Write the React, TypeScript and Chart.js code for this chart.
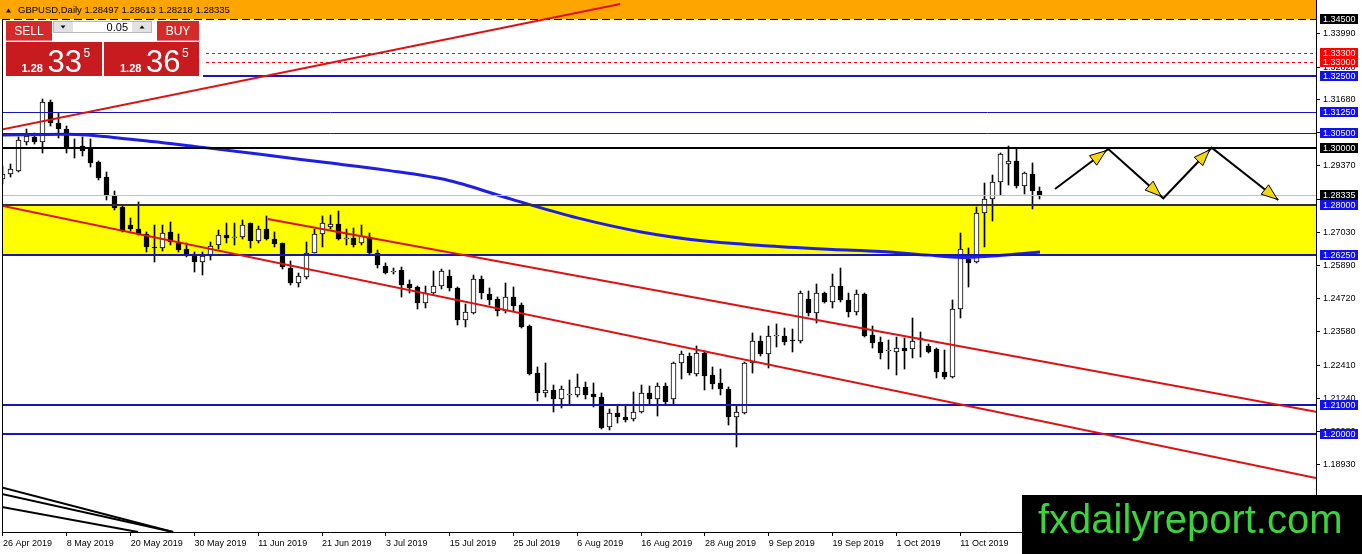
import React, { useEffect, useRef } from "react";
import { Chart, registerables } from "chart.js";

Chart.register(...registerables);

// ---------- DATA ----------
const opens = [
  1.2891, 1.2907, 1.2920, 1.3021, 1.3039, 1.3021, 1.3161, 1.3088, 1.3065, 1.2998,
  1.3006, 1.2998, 1.2951, 1.2897, 1.2835, 1.2792, 1.2730, 1.2716, 1.2699, 1.2655,
  1.2649, 1.2707, 1.2672, 1.2645, 1.2623, 1.2602, 1.2623, 1.2660, 1.2696, 1.2684,
  1.2687, 1.2736, 1.2675, 1.2715, 1.2680, 1.2668, 1.2581, 1.2526, 1.2550, 1.2634,
  1.2699, 1.2723, 1.2734, 1.2683, 1.2686, 1.2666, 1.2690, 1.2631, 1.2587, 1.2565,
  1.2573, 1.2524, 1.2513, 1.2457, 1.2491, 1.2517, 1.2552, 1.2509, 1.2398, 1.2424,
  1.2540, 1.2489, 1.2471, 1.2430, 1.2478, 1.2451, 1.2377, 1.2212, 1.2144, 1.2154,
  1.2121, 1.2138, 1.2136, 1.2165, 1.2139, 1.2130, 1.2025, 1.2072, 1.2061, 1.2051,
  1.2078, 1.2144, 1.2121, 1.2168, 1.2121, 1.2247, 1.2274, 1.2210, 1.2282, 1.2206,
  1.2177, 1.2157, 1.2061, 1.2075, 1.2247, 1.2325, 1.2279, 1.2343, 1.2344, 1.2327,
  1.2326, 1.2471, 1.2422, 1.2492, 1.2462, 1.2517, 1.2468, 1.2427, 1.2489, 1.2346,
  1.2322, 1.2290, 1.2288, 1.2300, 1.2296, 1.2329, 1.2307, 1.2296, 1.2218, 1.2200,
  1.2436, 1.2610, 1.2602, 1.2773, 1.2820, 1.2882, 1.2942, 1.2954, 1.2867, 1.2908,
  1.28497,
];
const highs = [
  1.2936, 1.2943, 1.3039, 1.3065, 1.3053, 1.3169, 1.3167, 1.3123, 1.3076, 1.3030,
  1.3039, 1.3030, 1.2955, 1.2916, 1.2849, 1.2795, 1.2756, 1.2812, 1.2705, 1.2730,
  1.2730, 1.2741, 1.2699, 1.2666, 1.2635, 1.2637, 1.2672, 1.2713, 1.2738, 1.2738,
  1.2747, 1.2738, 1.2727, 1.2762, 1.2705, 1.2668, 1.2606, 1.2561, 1.2672, 1.2715,
  1.2762, 1.2765, 1.2780, 1.2715, 1.2719, 1.2730, 1.2701, 1.2643, 1.2596, 1.2579,
  1.2585, 1.2538, 1.2516, 1.2517, 1.2568, 1.2575, 1.2573, 1.2515, 1.2454, 1.2555,
  1.2552, 1.2509, 1.2480, 1.2527, 1.2515, 1.2457, 1.2381, 1.2233, 1.2247, 1.2171,
  1.2168, 1.2189, 1.2210, 1.2183, 1.2179, 1.2144, 1.2086, 1.2101, 1.2098, 1.2148,
  1.2171, 1.2168, 1.2179, 1.2177, 1.2253, 1.2291, 1.2282, 1.2307, 1.2291, 1.2235,
  1.2226, 1.2165, 1.2101, 1.2253, 1.2352, 1.2342, 1.2377, 1.2384, 1.2369, 1.2366,
  1.2501, 1.2501, 1.2524, 1.2497, 1.2559, 1.2579, 1.2492, 1.2503, 1.2492, 1.2377,
  1.2340, 1.2327, 1.2338, 1.2334, 1.2405, 1.2357, 1.2314, 1.2299, 1.2293, 1.2468,
  1.2701, 1.2649, 1.2794, 1.2876, 1.2905, 1.2983, 1.3006, 1.2995, 1.2917, 1.2946,
  1.28613,
];
const lows = [
  1.2873, 1.2898, 1.2917, 1.3010, 1.3012, 1.2983, 1.3076, 1.3033, 1.2982, 1.2963,
  1.2972, 1.2934, 1.2888, 1.2818, 1.2783, 1.2707, 1.2710, 1.2695, 1.2637, 1.2602,
  1.2639, 1.2659, 1.2637, 1.2619, 1.2567, 1.2556, 1.2608, 1.2645, 1.2668, 1.2660,
  1.2680, 1.2649, 1.2666, 1.2677, 1.2655, 1.2576, 1.2519, 1.2514, 1.2540, 1.2631,
  1.2655, 1.2715, 1.2678, 1.2660, 1.2655, 1.2660, 1.2625, 1.2579, 1.2559, 1.2559,
  1.2478, 1.2494, 1.2437, 1.2439, 1.2485, 1.2505, 1.2500, 1.2382, 1.2374, 1.2420,
  1.2472, 1.2451, 1.2412, 1.2424, 1.2431, 1.2369, 1.2207, 1.2116, 1.2130, 1.2078,
  1.2090, 1.2105, 1.2130, 1.2121, 1.2093, 1.2018, 1.2014, 1.2039, 1.2043, 1.2046,
  1.2074, 1.2105, 1.2063, 1.2105, 1.2105, 1.2191, 1.2206, 1.2204, 1.2154, 1.2156,
  1.2136, 1.2031, 1.1956, 1.2070, 1.2212, 1.2272, 1.2230, 1.2304, 1.2311, 1.2285,
  1.2318, 1.2414, 1.2389, 1.2457, 1.2439, 1.2462, 1.2410, 1.2416, 1.2340, 1.2299,
  1.2262, 1.2226, 1.2205, 1.2226, 1.2264, 1.2270, 1.2282, 1.2195, 1.2191, 1.2197,
  1.2404, 1.2513, 1.2599, 1.2652, 1.2745, 1.2835, 1.2870, 1.2858, 1.2839, 1.2785,
  1.28218,
];
const closes = [
  1.2908, 1.2925, 1.3027, 1.3041, 1.3021, 1.3161, 1.3086, 1.3065, 1.2998, 1.3001,
  1.2989, 1.2948, 1.2895, 1.2832, 1.2789, 1.2709, 1.2715, 1.2698, 1.2652, 1.2649,
  1.2703, 1.2672, 1.2643, 1.2623, 1.2600, 1.2622, 1.2657, 1.2696, 1.2684, 1.2689,
  1.2730, 1.2675, 1.2715, 1.2680, 1.2664, 1.2585, 1.2526, 1.2552, 1.2634, 1.2699,
  1.2738, 1.2734, 1.2680, 1.2684, 1.2660, 1.2692, 1.2631, 1.2590, 1.2563, 1.2570,
  1.2521, 1.2509, 1.2457, 1.2494, 1.2517, 1.2570, 1.2509, 1.2398, 1.2427, 1.2540,
  1.2494, 1.2468, 1.2430, 1.2478, 1.2447, 1.2373, 1.2210, 1.2144, 1.2153, 1.2122,
  1.2156, 1.2140, 1.2165, 1.2136, 1.2130, 1.2022, 1.2072, 1.2058, 1.2049, 1.2076,
  1.2144, 1.2121, 1.2168, 1.2113, 1.2249, 1.2278, 1.2214, 1.2282, 1.2204, 1.2175,
  1.2157, 1.2061, 1.2076, 1.2247, 1.2325, 1.2279, 1.2342, 1.2345, 1.2323, 1.2325,
  1.2494, 1.2422, 1.2492, 1.2462, 1.2517, 1.2468, 1.2427, 1.2489, 1.2342, 1.2319,
  1.2284, 1.2293, 1.2300, 1.2291, 1.2325, 1.2334, 1.2287, 1.2215, 1.2200, 1.2436,
  1.2645, 1.2599, 1.2773, 1.2820, 1.2882, 1.2977, 1.2954, 1.2867, 1.2911, 1.2849,
  1.28335,
];

// moving average read at selected bars
const maBars = [0, 8, 16, 24, 32, 40, 48, 56, 64, 72, 80, 88, 96, 104, 110, 116, 120, 124, 128, 130];
const maValues = [1.3045, 1.3047, 1.3030, 1.3005, 1.2978, 1.2950, 1.2922, 1.2885, 1.2818, 1.2755,
  1.2706, 1.2674, 1.2657, 1.2645, 1.2638, 1.2625, 1.2617, 1.2622, 1.2631, 1.2636];

const dateTickBars = [0, 8, 16, 24, 32, 40, 48, 56, 64, 72, 80, 88, 96, 104, 112, 120];
const dateLabels = ["26 Apr 2019", "8 May 2019", "20 May 2019", "30 May 2019", "11 Jun 2019",
  "21 Jun 2019", "3 Jul 2019", "15 Jul 2019", "25 Jul 2019", "6 Aug 2019", "16 Aug 2019",
  "28 Aug 2019", "9 Sep 2019", "19 Sep 2019", "1 Oct 2019", "11 Oct 2019"];
const priceTicks = [1.3399, 1.3282, 1.3168, 1.3053, 1.2937, 1.2820, 1.2703, 1.2589, 1.2472,
  1.2358, 1.2241, 1.2124, 1.2008, 1.1893, 1.1776];

const headerText = "GBPUSD,Daily 1.28497 1.28613 1.28218 1.28335";
const bidPrice = 1.28335;
const orangeFloor = 1.345;
const yellowZone = [1.2625, 1.28];
const blueThickLevels = [1.325, 1.2625, 1.21, 1.2];
const blueThinLevels = [1.3125, 1.305];
const blackLevels = [1.3, 1.28];
const redDashedLevels = [1.333, 1.33];
// trend lines: [bar1, price1, bar2, price2]
const redTrendLines = [
  [-0.376, 1.30622, 77.37, 1.35024],
  [33.19, 1.27512, 164.6, 1.20775],
  [-0.376, 1.27988, 164.6, 1.18459],
];
const fanLines = [
  [-0.376, 1.18148, 21.32, 1.16576],
  [-0.376, 1.17921, 21.32, 1.16576],
  [-0.376, 1.17463, 16.93, 1.16576],
];
const projectionBars = [131.88, 138.56, 145.46, 151.52, 159.87];
const projectionPrices = [1.2856, 1.29958, 1.28235, 1.30003, 1.28176];
const lotSize = "0.05";
const sellQuote = ["1.28", "33", "5"];
const buyQuote = ["1.28", "36", "5"];
const watermark = "fxdailyreport.com";

// ---------- STYLE ----------
const FONT = '"Liberation Sans", Arial, sans-serif';
const BLUE_LINE = "#1616c0";
const BLUE_BOX = "#1010f0";
const RED_LINE = "#e01010";
const X_MIN = -0.125;
const X_MAX = 164.6;
const Y_MIN = 1.16576;
const Y_MAX = 1.35164;

const mt4Plugin = {
  id: "mt4",
  afterDatasetsUpdate(chart: any) {
    chart.data.datasets.forEach((ds: any, di: number) => {
      const meta = chart.getDatasetMeta(di);
      if (meta.type !== "bar") return;
      meta.data.forEach((el: any) => {
        el.x = Math.floor(el.x) + 0.5;
        let y = Math.round(el.y);
        const b = Math.round(el.base);
        if (y === b) y = b - 1;
        el.y = y;
        el.base = b;
      });
    });
  },
  beforeDatasetsDraw(chart: any) {
    const { ctx, chartArea: a, scales } = chart;
    const ys = scales.y;
    ctx.save();
    const yo = Math.round(ys.getPixelForValue(orangeFloor));
    ctx.fillStyle = "#FFA500";
    ctx.fillRect(0, 0, a.right, yo);
    const y1 = Math.round(ys.getPixelForValue(yellowZone[1]));
    const y2 = Math.round(ys.getPixelForValue(yellowZone[0]));
    ctx.fillStyle = "#FFFF00";
    ctx.fillRect(a.left, y1, a.right - a.left, y2 - y1);
    ctx.restore();
  },
  afterDatasetsDraw(chart: any) {
    const { ctx, chartArea: a, scales } = chart;
    const xs = scales.x, ys = scales.y;
    ctx.save();
    ctx.beginPath();
    ctx.rect(a.left, a.top, a.right - a.left, a.bottom - a.top);
    ctx.clip();
    const hLine = (p: number, color: string, w: number, dash: number[] = []) => {
      const yv = ys.getPixelForValue(p);
      const yy = w % 2 === 1 ? Math.round(yv) + 0.5 : Math.round(yv);
      ctx.beginPath();
      ctx.setLineDash(dash);
      ctx.strokeStyle = color;
      ctx.lineWidth = w;
      ctx.moveTo(a.left, yy);
      ctx.lineTo(a.right, yy);
      ctx.stroke();
    };
    hLine(orangeFloor, "#000", 1, [8, 4]);
    redDashedLevels.forEach((p) => hLine(p, "#ff0000", 1, [3, 3]));
    blueThinLevels.forEach((p) => hLine(p, BLUE_LINE, 1));
    hLine(bidPrice, "#c0c0c0", 1);
    blackLevels.forEach((p, i) => hLine(p, i === 0 ? "#000" : "#303030", 2));
    blueThickLevels.forEach((p) => hLine(p, BLUE_LINE, 2));
    ctx.setLineDash([]);
    const seg = (l: number[], color: string, w: number) => {
      ctx.beginPath();
      ctx.strokeStyle = color;
      ctx.lineWidth = w;
      ctx.moveTo(xs.getPixelForValue(l[0]), ys.getPixelForValue(l[1]));
      ctx.lineTo(xs.getPixelForValue(l[2]), ys.getPixelForValue(l[3]));
      ctx.stroke();
    };
    redTrendLines.forEach((l) => seg(l, RED_LINE, 2));
    fanLines.forEach((l) => seg(l, "#000", 2));
    const pts = projectionBars.map((b, i) => [xs.getPixelForValue(b), ys.getPixelForValue(projectionPrices[i])]);
    ctx.beginPath();
    ctx.strokeStyle = "#000";
    ctx.lineWidth = 2;
    pts.forEach((p, i) => (i === 0 ? ctx.moveTo(p[0], p[1]) : ctx.lineTo(p[0], p[1])));
    ctx.stroke();
    for (let i = 1; i < pts.length; i++) {
      const [x1, y1] = pts[i - 1];
      const [x2, y2] = pts[i];
      const ang = Math.atan2(y2 - y1, x2 - x1);
      const off = i === pts.length - 1 ? 1 : 3;
      const tx = x2 - off * Math.cos(ang), ty = y2 - off * Math.sin(ang);
      const L = 16, W = 6;
      const bx = tx - L * Math.cos(ang), by = ty - L * Math.sin(ang);
      const nx = -Math.sin(ang) * W, ny = Math.cos(ang) * W;
      ctx.beginPath();
      ctx.moveTo(tx, ty);
      ctx.lineTo(bx + nx, by + ny);
      ctx.lineTo(bx - nx, by - ny);
      ctx.closePath();
      ctx.fillStyle = "#f5d60a";
      ctx.fill();
      ctx.lineWidth = 1;
      ctx.strokeStyle = "#000";
      ctx.stroke();
    }
    ctx.restore();
    ctx.save();
    ctx.fillStyle = "#000";
    ctx.fillRect(a.left, Math.round(ys.getPixelForValue(orangeFloor)), 1, a.bottom - 19);
    ctx.restore();
  },
  afterDraw(chart: any) {
    const { ctx, chartArea: a, scales } = chart;
    const ys = scales.y;
    ctx.save();
    const boxes: [number, string][] = [
      [orangeFloor, "#000"], [redDashedLevels[1], "#ff0000"], [redDashedLevels[0], "#ff0000"],
      [blueThickLevels[0], BLUE_BOX], [blueThinLevels[0], BLUE_BOX], [blueThinLevels[1], BLUE_BOX],
      [blackLevels[0], "#000"], [bidPrice, "#000"], [blackLevels[1], BLUE_BOX],
      [blueThickLevels[1], BLUE_BOX], [blueThickLevels[2], BLUE_BOX], [blueThickLevels[3], BLUE_BOX],
    ];
    ctx.font = `9px ${FONT}`;
    ctx.textBaseline = "middle";
    ctx.textAlign = "left";
    boxes.forEach(([p, c]) => {
      const yc = ys.getPixelForValue(p);
      const top = Math.round(yc - 5);
      ctx.fillStyle = c;
      ctx.fillRect(a.right + 4, top, 38, 10);
      ctx.fillStyle = "#fff";
      ctx.fillText(p.toFixed(5), a.right + 7, top + 5.5);
    });

    // header
    ctx.fillStyle = "#000";
    ctx.beginPath();
    ctx.moveTo(6, 12.5);
    ctx.lineTo(11, 12.5);
    ctx.lineTo(8.5, 8.5);
    ctx.closePath();
    ctx.fill();
    ctx.font = `9.5px ${FONT}`;
    ctx.textBaseline = "middle";
    ctx.fillText(headerText, 18, 10.5);

    // one-click trading panel
    ctx.fillStyle = "#fff";
    ctx.fillRect(3, 20, 200, 58);
    ctx.fillStyle = "#d42a2a";
    ctx.fillRect(6, 21, 46, 20);
    ctx.fillRect(157, 21, 42, 20);
    ctx.fillStyle = "#e77a7a";
    ctx.fillRect(6, 40, 46, 1);
    ctx.fillRect(157, 40, 42, 1);
    ctx.fillStyle = "#c71b20";
    ctx.fillRect(6, 42, 96, 34);
    ctx.fillRect(104, 42, 95, 34);
    ctx.fillStyle = "#e2e2e2";
    ctx.fillRect(53, 21, 20, 12);
    ctx.fillRect(132, 21, 20, 12);
    ctx.strokeStyle = "#b8b8b8";
    ctx.lineWidth = 1;
    ctx.strokeRect(53.5, 21.5, 98, 11);
    ctx.fillStyle = "#fff";
    ctx.fillRect(73, 22, 59, 10);
    ctx.fillStyle = "#000";
    ctx.beginPath();
    ctx.moveTo(60.5, 25.5); ctx.lineTo(65.5, 25.5); ctx.lineTo(63, 28.5); ctx.closePath(); ctx.fill();
    ctx.beginPath();
    ctx.moveTo(139.5, 28.5); ctx.lineTo(144.5, 28.5); ctx.lineTo(142, 25.5); ctx.closePath(); ctx.fill();
    ctx.font = `11px ${FONT}`;
    ctx.textAlign = "right";
    ctx.fillText(lotSize, 128, 27.5);
    ctx.fillStyle = "#fff";
    ctx.textAlign = "center";
    ctx.font = `12px ${FONT}`;
    ctx.fillText("SELL", 29, 31.5);
    ctx.fillText("BUY", 178, 31.5);
    ctx.textAlign = "left";
    ctx.textBaseline = "alphabetic";
    const quote = (q: string[], x0: number) => {
      ctx.font = `bold 11px ${FONT}`;
      ctx.fillText(q[0], x0, 71.5);
      ctx.font = `31px ${FONT}`;
      ctx.fillText(q[1], x0 + 26, 71.5);
      ctx.font = `12px ${FONT}`;
      ctx.fillText(q[2], x0 + 62, 57);
    };
    quote(sellQuote, 21.5);
    quote(buyQuote, 120);

    // watermark
    ctx.fillStyle = "#000";
    ctx.fillRect(1022, 495, 340, 59);
    ctx.fillStyle = "#3cd43c";
    ctx.font = `40px ${FONT}`;
    ctx.textAlign = "left";
    ctx.textBaseline = "alphabetic";
    ctx.fillText(watermark, 1038, 533);
    ctx.restore();
  },
};

export default function App() {
  const ref = useRef<HTMLCanvasElement>(null);
  useEffect(() => {
    document.body.style.margin = "0";
    document.body.style.overflow = "hidden";
    Chart.defaults.font.family = FONT;
    const idx = opens.map((_, i) => i);
    const chart = new Chart(ref.current as HTMLCanvasElement, {
      type: "bar",
      data: {
        datasets: [
          {
            type: "line",
            data: maBars.map((b, i) => ({ x: b, y: maValues[i] })),
            borderColor: "#1e1ee6",
            borderWidth: 3,
            pointRadius: 0,
            cubicInterpolationMode: "monotone",
            order: 0,
          } as any,
          {
            type: "bar",
            data: idx.map((i) => ({ x: i, y: [opens[i], closes[i]] })),
            backgroundColor: idx.map((i) => (closes[i] >= opens[i] ? "#ffffff" : "#000000")),
            borderColor: "#000",
            borderWidth: 1,
            borderSkipped: false,
            barThickness: 5,
            minBarLength: 1,
            grouped: false,
            clip: 0,
            order: 1,
          } as any,
          {
            type: "bar",
            data: idx.map((i) => ({ x: i, y: [lows[i], highs[i]] })),
            backgroundColor: "#000",
            borderWidth: 0,
            barThickness: 1,
            grouped: false,
            clip: 0,
            order: 2,
          } as any,
        ],
      },
      options: {
        animation: false,
        responsive: false,
        devicePixelRatio: 1,
        layout: { padding: { left: 2, right: 0, top: 0, bottom: 0 } },
        plugins: { legend: { display: false }, tooltip: { enabled: false } },
        events: [],
        scales: {
          x: {
            type: "linear",
            min: X_MIN,
            max: X_MAX,
            offset: false,
            position: "bottom",
            afterFit: (s: any) => { s.height = 22; s.paddingLeft = 0; s.paddingRight = 0; },
            afterBuildTicks: (s: any) => { s.ticks = dateTickBars.map((v) => ({ value: v })); },
            ticks: {
              autoSkip: false, maxRotation: 0, minRotation: 0, align: "start", padding: 2,
              color: "#000", font: { family: FONT, size: 9 },
              callback: (_v: any, i: number) => dateLabels[i],
            },
            grid: { drawOnChartArea: false, drawTicks: true, tickLength: 4, color: "#000", offset: false },
            border: { display: true, color: "#000", width: 1 },
          },
          y: {
            type: "linear",
            position: "right",
            min: Y_MIN,
            max: Y_MAX,
            afterFit: (s: any) => { s.width = 46; s.paddingTop = 0; s.paddingBottom = 0; },
            afterBuildTicks: (s: any) => { s.ticks = priceTicks.map((v) => ({ value: v })); },
            ticks: {
              autoSkip: false, padding: 3, color: "#000", font: { family: FONT, size: 9 },
              callback: (v: any) => Number(v).toFixed(5),
            },
            grid: { drawOnChartArea: false, drawTicks: true, tickLength: 4, color: "#000" },
            border: { display: true, color: "#000", width: 1 },
          },
        },
      } as any,
      plugins: [mt4Plugin],
    });
    return () => chart.destroy();
  }, []);
  return (
    <div style={{ width: 1362, height: 554, overflow: "hidden" }}>
      <canvas ref={ref} width={1362} height={554} style={{ display: "block", width: 1362, height: 554 }} />
    </div>
  );
}
